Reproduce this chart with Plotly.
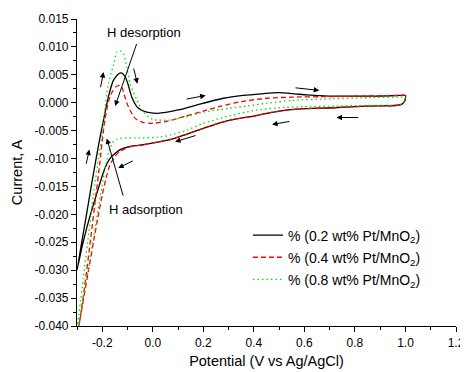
import plotly.graph_objects as go

# ---- data (Potential V, Current A) ----
pt02_v = [-0.300, -0.266, -0.240, -0.211, -0.195, -0.176, -0.156, -0.135, -0.122, -0.110, -0.098, -0.083,
          -0.057, -0.024, 0.020, 0.100, 0.190, 0.280, 0.357, 0.430, 0.495, 0.560, 0.610, 0.700, 0.800,
          0.900, 0.977, 1.000, 0.997, 0.985, 0.960, 0.846, 0.714, 0.580, 0.515, 0.450, 0.400, 0.330,
          0.266, 0.200, 0.130, 0.068, 0.000, -0.050, -0.090, -0.129, -0.150, -0.170, -0.190, -0.205,
          -0.220, -0.240, -0.260, -0.280, -0.300]
pt02_i = [-0.0300, -0.0210, -0.0140, -0.0067, -0.0031, 0.0010, 0.0040, 0.0052, 0.0053, 0.0047, 0.0033, 0.0010,
          -0.0010, -0.0017, -0.0019, -0.0013, -0.0002, 0.0008, 0.0013, 0.0016, 0.0018, 0.0016, 0.0014, 0.0012, 0.0012,
          0.0012, 0.0013, 0.0013, 0.0003, -0.0003, -0.0005, -0.0006, -0.0009, -0.0011, -0.0014, -0.0019, -0.0024, -0.0029,
          -0.0036, -0.0046, -0.0057, -0.0066, -0.0072, -0.0076, -0.0078, -0.0084, -0.0091, -0.0100, -0.0118, -0.0138,
          -0.0160, -0.0190, -0.0222, -0.0258, -0.0300]

pt04_v = [-0.300, -0.270, -0.245, -0.225, -0.210, -0.200, -0.190, -0.175, -0.160, -0.145, -0.130, -0.120,
          -0.110, -0.096, -0.070, -0.040, -0.010, 0.050, 0.130, 0.200, 0.270, 0.350, 0.450, 0.550, 0.700,
          0.850, 0.977, 1.000, 0.997, 0.985, 0.960, 0.846, 0.714, 0.580, 0.515, 0.450, 0.400, 0.330,
          0.266, 0.200, 0.130, 0.068, 0.000, -0.050, -0.090, -0.130, -0.150, -0.170, -0.185, -0.200,
          -0.215, -0.235, -0.260, -0.285, -0.300]
pt04_i = [-0.0425, -0.0330, -0.0240, -0.0165, -0.0110, -0.0068, -0.0032, 0.0003, 0.0020, 0.0029, 0.0031, 0.0025,
          0.0010, -0.0008, -0.0028, -0.0035, -0.0037, -0.0034, -0.0024, -0.0015, -0.0006, 0.0002, 0.0008, 0.0010, 0.0011,
          0.0012, 0.0013, 0.0013, 0.0003, -0.0003, -0.0005, -0.0006, -0.0009, -0.0011, -0.0014, -0.0019, -0.0024, -0.0029,
          -0.0036, -0.0046, -0.0057, -0.0066, -0.0072, -0.0076, -0.0079, -0.0087, -0.0096, -0.0112, -0.0135, -0.0165,
          -0.0200, -0.0250, -0.0315, -0.0380, -0.0420]

pt08_v = [-0.300, -0.275, -0.254, -0.235, -0.215, -0.200, -0.189, -0.176, -0.156, -0.142, -0.129, -0.116,
          -0.103, -0.090, -0.063, -0.037, 0.000, 0.068, 0.130, 0.200, 0.300, 0.372, 0.450, 0.550, 0.700,
          0.850, 0.977, 1.000, 0.997, 0.985, 0.960, 0.850, 0.700, 0.600, 0.500, 0.400, 0.300, 0.200,
          0.130, 0.070, 0.020, -0.050, -0.100, -0.140, -0.160, -0.175, -0.190, -0.205, -0.225, -0.250,
          -0.275, -0.300]
pt08_i = [-0.0405, -0.0315, -0.0235, -0.0165, -0.0100, -0.0055, -0.0010, 0.0034, 0.0067, 0.0091, 0.0093, 0.0088,
          0.0064, 0.0034, 0.0005, -0.0017, -0.0030, -0.0031, -0.0025, -0.0017, -0.0010, -0.0006, -0.0001, 0.0004, 0.0007,
          0.0009, 0.0010, 0.0010, 0.0002, -0.0002, -0.0004, -0.0005, -0.0006, -0.0007, -0.0009, -0.0014, -0.0024, -0.0037,
          -0.0050, -0.0058, -0.0062, -0.0063, -0.0063, -0.0065, -0.0072, -0.0090, -0.0120, -0.0160, -0.0215, -0.0285,
          -0.0350, -0.0415]

series_names = ["% (0.2 wt% Pt/MnO<sub>2</sub>)", "% (0.4 wt% Pt/MnO<sub>2</sub>)", "% (0.8 wt% Pt/MnO<sub>2</sub>)"]

x_tickvals = [-0.2, 0.0, 0.2, 0.4, 0.6, 0.8, 1.0, 1.2]
x_ticktext = ["-0.2", "0.0", "0.2", "0.4", "0.6", "0.8", "1.0", "1.2"]
y_tickvals = [0.015, 0.010, 0.005, 0.000, -0.005, -0.010, -0.015, -0.020, -0.025, -0.030, -0.035, -0.040]
y_ticktext = ["0.015", "0.010", "0.005", "0.000", "-0.005", "-0.010", "-0.015", "-0.020",
              "-0.025", "-0.030", "-0.035", "-0.040"]

# direction arrows: (head_x, head_y, tail_x, tail_y)
arrows = [
    (-0.195, 0.0055, -0.208, 0.0025),
    (-0.251, -0.0084, -0.265, -0.0112),
    (-0.061, 0.0034, -0.077, 0.0064),
    (0.209, 0.0013, 0.128, 0.0006),
    (0.659, 0.0022, 0.559, 0.0027),
    (0.727, -0.00265, 0.819, -0.00265),
    (0.472, -0.0039, 0.547, -0.0033),
    (0.088, -0.0070, 0.175, -0.0058),
    (-0.137, -0.0117, -0.0735, -0.0103),
]
# labelled pointers: text, text x, text y, head x, head y, tail x, tail y
labels = [
    ("H desorption", -0.035, 0.0126, -0.149, -0.0006, -0.062, 0.0108),
    ("H adsorption", -0.025, -0.0192, -0.182, -0.0064, -0.116, -0.0169),
]

fig = go.Figure()
styles = [dict(color="#000000", dash="solid"), dict(color="#ff0000", dash="5px,3px"),
          dict(color="#00e000", dash="1.5px,3px")]
for v, i, name, st in zip([pt02_v, pt04_v, pt08_v], [pt02_i, pt04_i, pt08_i], series_names, styles):
    fig.add_trace(go.Scatter(x=v, y=i, mode="lines", name=name, legendgroup=name,
                             line=dict(color=st["color"], dash=st["dash"], width=1.3,
                                       shape="spline", smoothing=0.6)))

ann = []
for hx, hy, tx, ty in arrows:
    ann.append(dict(x=hx, y=hy, ax=tx, ay=ty, xref="x", yref="y", axref="x", ayref="y",
                    text="", showarrow=True, arrowhead=2, arrowsize=1.1, arrowwidth=1, arrowcolor="black"))
for txt, lx, ly, hx, hy, tx, ty in labels:
    ann.append(dict(x=lx, y=ly, xref="x", yref="y", text=txt, showarrow=False,
                    font=dict(size=13, color="black", family="Liberation Sans, Arial")))
    ann.append(dict(x=hx, y=hy, ax=tx, ay=ty, xref="x", yref="y", axref="x", ayref="y",
                    text="", showarrow=True, arrowhead=2, arrowsize=1.1, arrowwidth=1, arrowcolor="black"))

axis_common = dict(showline=True, linecolor="black", linewidth=1.2, ticks="outside", ticklen=5,
                   tickwidth=1, tickcolor="black", showgrid=False, zeroline=False, mirror=False,
                   automargin=False, tickfont=dict(size=12, color="black"))

# the page body adds an 8 px offset, so the figure is shrunk and margins reduced accordingly
fig.update_layout(
    width=460, height=364,
    margin=dict(l=69, r=12, t=11, b=46),
    paper_bgcolor="white", plot_bgcolor="white",
    font=dict(family="Liberation Sans, Arial", color="black", size=12),
    xaxis=dict(range=[-0.3, 1.2], tickmode="array", tickvals=x_tickvals, ticktext=x_ticktext,
               minor=dict(tickmode="array", tickvals=[-0.3, -0.1, 0.1, 0.3, 0.5, 0.7, 0.9, 1.1],
                          ticks="outside", ticklen=3, tickcolor="black"),
               title=dict(text="Potential (V vs Ag/AgCl)", font=dict(size=14.5), standoff=7),
               **axis_common),
    yaxis=dict(range=[-0.040, 0.015], tickmode="array", tickvals=y_tickvals, ticktext=y_ticktext,
               minor=dict(tickmode="array",
                          tickvals=[0.0125, 0.0075, 0.0025, -0.0025, -0.0075, -0.0125, -0.0175,
                                    -0.0225, -0.0275, -0.0325, -0.0375],
                          ticks="outside", ticklen=3, tickcolor="black"),
               title=dict(text="Current, A", font=dict(size=14.5), standoff=8),
               **axis_common),
    legend=dict(x=0.451, y=0.347, xanchor="left", yanchor="top", bgcolor="rgba(0,0,0,0)",
                font=dict(size=14), itemwidth=30, tracegroupgap=1),
    annotations=ann,
)

fig.write_html("out.html")
